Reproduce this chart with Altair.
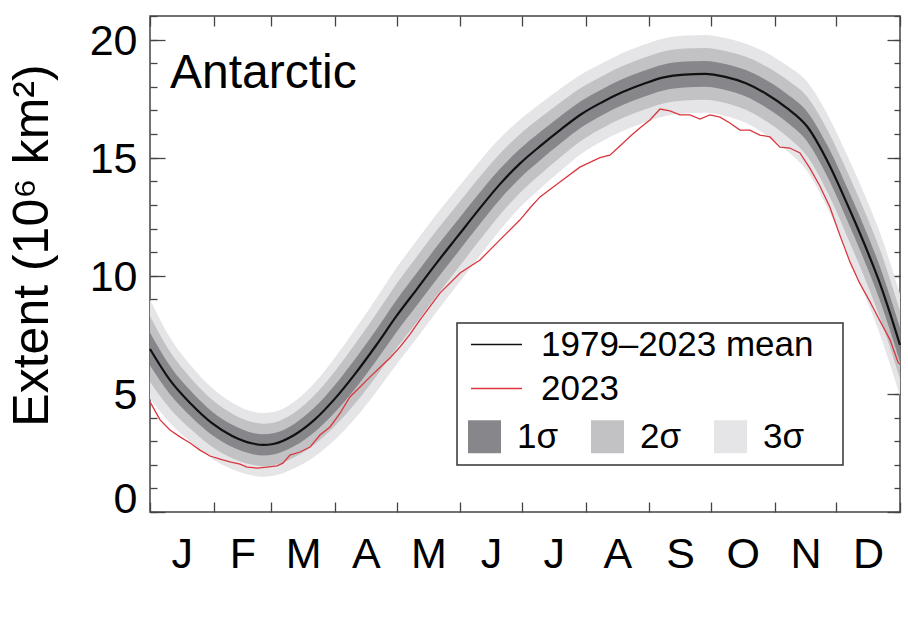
import altair as alt
import pandas as pd

# ---- data ----
days = [0, 10, 20, 30, 40, 50, 55, 60, 70, 80, 90, 100, 110, 120, 130, 140, 150, 160,
        170, 180, 190, 200, 210, 220, 230, 240, 250, 260, 270, 280, 290, 300, 310, 320,
        330, 340, 350, 355, 360, 365]
mean_vals = [6.9, 5.55, 4.57, 3.77, 3.22, 2.9, 2.84, 2.88, 3.25, 3.9, 4.8, 5.87, 7.05,
             8.3, 9.45, 10.6, 11.7, 12.8, 13.85, 14.75, 15.5, 16.2, 16.85, 17.35, 17.78,
             18.12, 18.4, 18.52, 18.55, 18.42, 18.15, 17.7, 17.1, 16.3, 14.8, 12.9, 10.85,
             9.73, 8.45, 7.07]
sd_vals = [0.7, 0.6, 0.54, 0.5, 0.47, 0.45, 0.45, 0.45, 0.47, 0.52, 0.58, 0.63, 0.66,
           0.68, 0.69, 0.69, 0.68, 0.67, 0.65, 0.62, 0.6, 0.58, 0.56, 0.55, 0.55, 0.55,
           0.55, 0.55, 0.55, 0.55, 0.56, 0.58, 0.6, 0.63, 0.66, 0.69, 0.71, 0.72, 0.72, 0.72]

y2023_days = [0, 4.9, 9.7, 14.6, 19.5, 24.3, 29.2, 34.1, 38.9, 43.8, 47.2, 52.1, 56.9,
              61.8, 64.7, 68.1, 73, 77.9, 82.7, 87.6, 92.5, 97.3, 102.2, 107.1, 111.9,
              116.8, 121.7, 126.5, 131.4, 141.1, 150.9, 160.6, 170.3, 180, 184.9, 189.8,
              199.5, 209.2, 219, 223.8, 228.7, 233.6, 238.4, 243.3, 248.2, 253, 257.9,
              262.8, 267.6, 272.5, 277.4, 282.2, 287.1, 291.9, 296.8, 301.7, 306.6, 311.4,
              316.3, 321.2, 326, 330.9, 335.8, 340.6, 345.3, 350.4, 355.2, 360.1, 364, 365]
y2023_vals = [4.66, 3.9, 3.47, 3.18, 2.92, 2.62, 2.37, 2.24, 2.12, 2.03, 1.9, 1.86, 1.9,
              1.95, 2.07, 2.41, 2.54, 2.75, 3.26, 3.6, 4.19, 4.87, 5.29, 5.72, 6.12, 6.52,
              6.99, 7.52, 8.13, 9.27, 10.12, 10.67, 11.52, 12.36, 12.87, 13.34, 13.97,
              14.6, 15.0, 15.11, 15.5, 15.9, 16.26, 16.6, 17.06, 16.98, 16.81, 16.81,
              16.64, 16.81, 16.72, 16.47, 16.17, 16.17, 15.96, 15.88, 15.45, 15.41, 15.2,
              14.55, 13.8, 12.9, 11.7, 10.6, 9.7, 8.9, 8.1, 7.3, 6.35, 6.25]

month_starts = [0, 31, 59, 90, 120, 151, 181, 212, 243, 273, 304, 334, 365]
month_letters = ['J', 'F', 'M', 'A', 'M', 'J', 'J', 'A', 'S', 'O', 'N', 'D']
y_major = [0, 5, 10, 15, 20]
y_minor = list(range(0, 22))

band_names = ['1σ', '2σ', '3σ']
band_colors = ['#87878b', '#c2c2c4', '#e5e5e7']
series_names = ['1979–2023 mean', '2023']
series_colors = ['#111111', '#d9363e']

FONT = 'Liberation Sans'

# ---- tables ----
band_tables = {}
for k, name in enumerate(band_names, start=1):
    band_tables[name] = pd.DataFrame({
        'day': days,
        'lo': [m - k * s for m, s in zip(mean_vals, sd_vals)],
        'hi': [m + k * s for m, s in zip(mean_vals, sd_vals)],
        'band': name,
    })
mean_df = pd.DataFrame({'day': days, 'extent': mean_vals, 'series': series_names[0]})
cur_df = pd.DataFrame({'day': y2023_days, 'extent': y2023_vals, 'series': series_names[1]})

xs = alt.Scale(domain=[0, 365], nice=False, zero=False)
ys = alt.Scale(domain=[0, 21], nice=False, zero=True)

month_mids = [(a + b) / 2 for a, b in zip(month_starts[:-1], month_starts[1:])]
label_expr = ("[" + ",".join(f"'{m}'" for m in month_letters) + "][indexof(["
              + ",".join(str(v) for v in month_mids) + "], datum.value)]")

x_label_axis = alt.Axis(orient='bottom', values=month_mids, labelExpr=label_expr,
                        ticks=False, tickSize=0, domain=False, grid=False,
                        labelFontSize=43, labelPadding=21, labelFont=FONT,
                        labelColor='black', title=None, labelFlush=False,
                        labelOverlap=False)
y_label_axis = alt.Axis(orient='left', values=y_major, ticks=False, tickSize=0,
                        domain=False, grid=False, labelFontSize=43, labelPadding=13,
                        labelFont=FONT, labelColor='black', labelFlush=False,
                        labelOverlap=False,
                        labelOffset={"condition": {"test": "datum.value === 0", "value": -13},
                                     "value": 2},
                        title='Extent (10⁶ km²)', titleFont=FONT, titleFontSize=50,
                        titleFontWeight='normal', titleColor='black', titleX=-118,
                        titleY=229, titleAlign='center', titleBaseline='middle')


def tick_axis(orient, values, size):
    return alt.Axis(orient=orient, values=values, labels=False, domain=False,
                    grid=False, ticks=True, tickSize=size, offset=-size, title=None,
                    tickColor='#444444', tickWidth=1.3)


fill_scale = alt.Scale(domain=band_names, range=band_colors)
fill_legend = alt.Legend(title=None, orient='none', legendX=317, legendY=403,
                         direction='horizontal', columns=3, symbolType='square',
                         symbolSize=1089, symbolStrokeWidth=0, symbolOpacity=1,
                         labelFontSize=35, labelFont=FONT, labelColor='black',
                         labelOffset=15, columnPadding=31, padding=0, labelLimit=400)
stroke_scale = alt.Scale(domain=series_names, range=series_colors)
stroke_legend = alt.Legend(title=None, orient='none', legendX=329, legendY=311,
                           direction='vertical', symbolType='M-2,0H2', symbolSize=650,
                           symbolStrokeWidth=1.6, labelFontSize=35, labelFont=FONT,
                           labelColor='black', labelOffset=27, rowPadding=8, padding=0,
                           labelLimit=400)

band_axes = [
    ('3σ', x_label_axis, y_label_axis),
    ('2σ', tick_axis('bottom', month_starts, 10), tick_axis('left', y_major, 15)),
    ('1σ', tick_axis('top', month_starts, 10), tick_axis('left', y_minor, 7)),
]
layers = []
for name, xa, ya in band_axes:
    layers.append(
        alt.Chart(band_tables[name]).mark_area(opacity=1, interpolate='monotone').encode(
            x=alt.X('day:Q', scale=xs, axis=xa),
            y=alt.Y('lo:Q', scale=ys, axis=ya),
            y2='hi:Q',
            fill=alt.Fill('band:N', scale=fill_scale, legend=fill_legend),
        )
    )

red = alt.Chart(cur_df).mark_line(strokeWidth=1.3).encode(
    x=alt.X('day:Q', scale=xs, axis=None),
    y=alt.Y('extent:Q', scale=ys, axis=tick_axis('right', y_major, 13)),
    stroke=alt.Stroke('series:N', scale=stroke_scale, legend=stroke_legend),
)
mean = alt.Chart(mean_df).mark_line(strokeWidth=2.2, interpolate='monotone').encode(
    x=alt.X('day:Q', scale=xs, axis=None),
    y=alt.Y('extent:Q', scale=ys, axis=tick_axis('right', y_minor, 6)),
    stroke=alt.Stroke('series:N', scale=stroke_scale, legend=stroke_legend),
)

box = alt.Chart(pd.DataFrame({'a': [0]})).mark_rect(
    fill='white', stroke='#333333', strokeWidth=1.5
).encode(x=alt.value(307), x2=alt.value(693), y=alt.value(307), y2=alt.value(449))

label = alt.Chart(pd.DataFrame({'t': ['Antarctic']})).mark_text(
    align='left', baseline='alphabetic', fontSize=48, font=FONT, color='black'
).encode(x=alt.value(20), y=alt.value(72), text='t:N')

chart = alt.layer(*layers, red, mean, box, label).resolve_scale(
    x='shared', y='shared'
).resolve_axis(
    x='independent', y='independent'
).properties(
    width=750, height=496,
    autosize=alt.AutoSizeParams(type='none'),
    padding={'left': 150, 'top': 16, 'right': 8, 'bottom': 111},
).configure_view(stroke='#444444', strokeWidth=1.5)

chart.save("out.html", embed_options={"renderer": "svg", "actions": False})
